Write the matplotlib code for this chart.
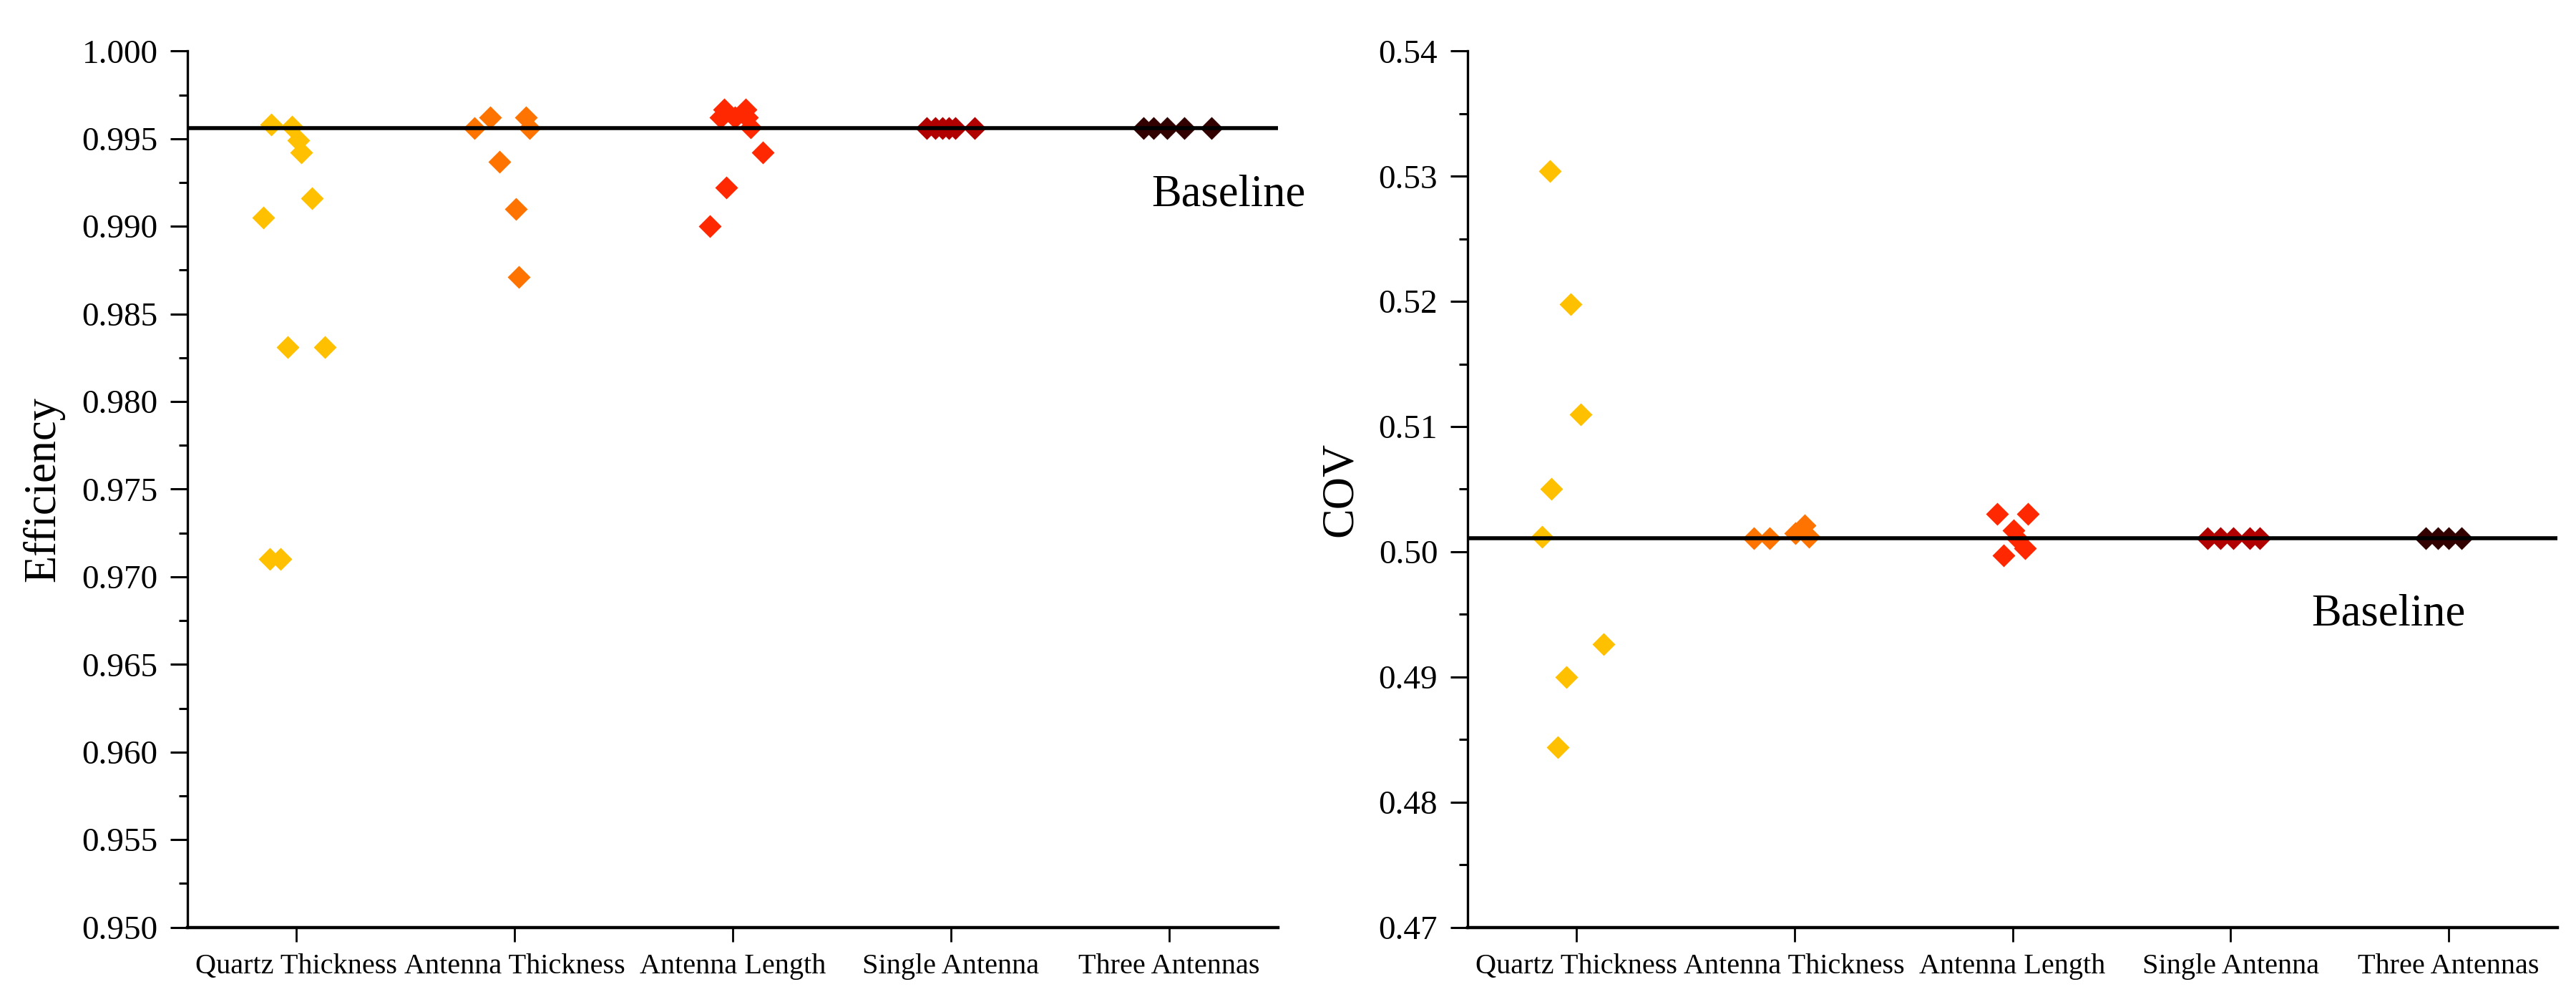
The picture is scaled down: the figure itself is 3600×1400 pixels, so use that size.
import numpy as np
import matplotlib
matplotlib.use("Agg")
import matplotlib.pyplot as plt
from matplotlib.ticker import MultipleLocator, FormatStrFormatter

plt.rcParams['font.family'] = ['Liberation Serif', 'DejaVu Serif']

# ----------------------------
# Data
# ----------------------------
categories = ["Quartz Thickness", "Antenna Thickness", "Antenna Length",
              "Single Antenna", "Three Antennas"]
colors = ["#FFC000", "#FF7300", "#FF2800", "#B00000", "#330000"]

baseline_eff = 0.9956
baseline_cov = 0.5011

# Efficiency (left panel): x positions (jittered around category index) and values
quartz_eff_x = [0.884, 0.979, 1.007, 1.023, 1.070, 0.848, 0.960, 1.129, 0.878, 0.925]
quartz_eff = [0.9958, 0.9957, 0.9949, 0.9942, 0.9916, 0.9905, 0.9831, 0.9831, 0.9710, 0.9710]

ant_thick_eff_x = [1.817, 1.888, 2.051, 2.069, 1.930, 2.006, 2.018]
ant_thick_eff = [0.9956, 0.9962, 0.9962, 0.9956, 0.9937, 0.9910, 0.9871]

ant_len_eff_x = [2.962, 3.060, 2.945, 3.010, 3.067, 3.083, 3.138, 2.972, 2.896]
ant_len_eff = [0.99665, 0.99665, 0.9962, 0.9962, 0.9962, 0.99565, 0.9942, 0.9922, 0.9900]

single_eff_x = [3.89, 3.93, 3.96, 3.99, 4.02, 4.11]
single_eff = [0.9956, 0.9956, 0.9956, 0.9956, 0.9956, 0.9956]

three_eff_x = [4.884, 4.93, 4.99, 5.07, 5.195]
three_eff = [0.9956, 0.9956, 0.9956, 0.9956, 0.9956]

# COV (right panel)
quartz_cov_x = [0.879, 0.974, 1.020, 0.885, 0.842, 1.125, 0.954, 0.913]
quartz_cov = [0.5304, 0.5198, 0.5110, 0.5050, 0.5012, 0.4926, 0.4900, 0.4844]

ant_thick_cov_x = [1.812, 1.884, 2.005, 2.048, 2.067]
ant_thick_cov = [0.5011, 0.5011, 0.5015, 0.5021, 0.5012]

ant_len_cov_x = [2.929, 3.072, 3.005, 3.025, 3.056, 2.958]
ant_len_cov = [0.5030, 0.5030, 0.5017, 0.5010, 0.5003, 0.4997]

single_cov_x = [3.894, 3.954, 4.014, 4.087, 4.135]
single_cov = [0.5011, 0.5011, 0.5011, 0.5011, 0.5011]

three_cov_x = [4.895, 4.95, 5.00, 5.06]
three_cov = [0.5011, 0.5011, 0.5011, 0.5011]

eff_groups = [(quartz_eff_x, quartz_eff), (ant_thick_eff_x, ant_thick_eff),
              (ant_len_eff_x, ant_len_eff), (single_eff_x, single_eff),
              (three_eff_x, three_eff)]
cov_groups = [(quartz_cov_x, quartz_cov), (ant_thick_cov_x, ant_thick_cov),
              (ant_len_cov_x, ant_len_cov), (single_cov_x, single_cov),
              (three_cov_x, three_cov)]

# ----------------------------
# Figure
# ----------------------------
fig = plt.figure(figsize=(36, 14), dpi=100)
ax1 = fig.add_axes([0.0728, 0.0746, 0.4233, 0.8744])
ax2 = fig.add_axes([0.5697, 0.0746, 0.4231, 0.8744])


def style_axis(ax, ylim, major, minor, fmt, ylabel, label_x):
    ax.set_xlim(0.5, 5.5)
    ax.set_ylim(*ylim)
    ax.set_xticks(np.arange(1, 6))
    ax.set_xticklabels(categories, fontsize=29)
    ax.yaxis.set_major_locator(MultipleLocator(major))
    ax.yaxis.set_minor_locator(MultipleLocator(minor))
    ax.yaxis.set_major_formatter(FormatStrFormatter(fmt))
    ax.tick_params(axis='y', which='major', direction='out', length=17,
                   width=2.2, labelsize=34, pad=13)
    ax.tick_params(axis='y', which='minor', direction='out', length=9, width=2.2)
    ax.tick_params(axis='x', which='major', direction='out', length=14.5,
                   width=2.0, pad=12)
    ax.spines['top'].set_visible(False)
    ax.spines['right'].set_visible(False)
    ax.spines['left'].set_linewidth(2.4)
    ax.spines['bottom'].set_linewidth(3.2)
    ax.set_ylabel(ylabel, fontsize=45)
    ax.yaxis.set_label_coords(label_x, 0.5)


style_axis(ax1, (0.95, 1.0), 0.005, 0.0025, '%.3f', 'Efficiency', -0.113)
style_axis(ax2, (0.47, 0.54), 0.01, 0.005, '%.2f', 'COV', -0.097)

for ax, groups, base in [(ax1, eff_groups, baseline_eff), (ax2, cov_groups, baseline_cov)]:
    for (gx, gy), c in zip(groups, colors):
        ax.plot(gx, gy, ls='none', marker='D', ms=16.5, color=c, mec='none',
                clip_on=False, zorder=2)
    ax.axhline(base, color='black', lw=4.0, zorder=3)

ax1.text(4.92, 0.9918, "Baseline", fontsize=45, va='center', ha='left', clip_on=False)
ax2.text(4.372, 0.4950, "Baseline", fontsize=45, va='center', ha='left')

fig.savefig("out.png", dpi=100)
